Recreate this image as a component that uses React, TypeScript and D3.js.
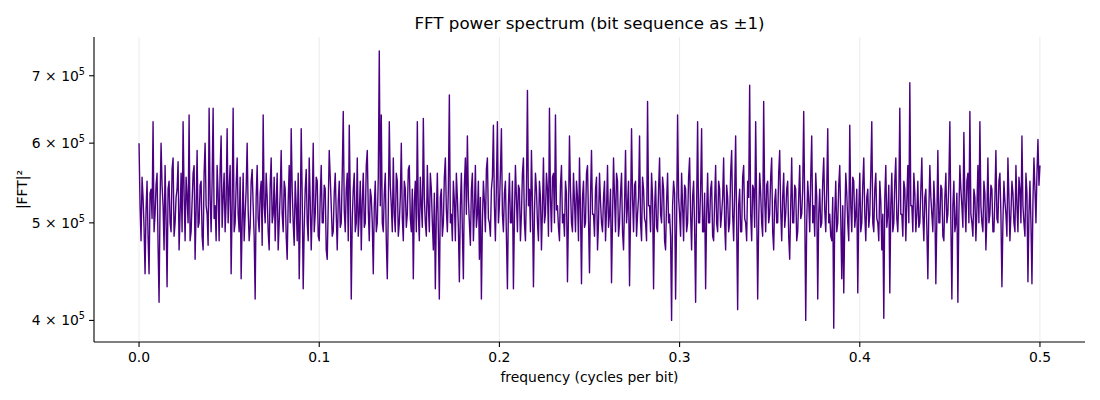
import * as d3 from 'd3'

// |FFT|^2 in units of 1e5 (901 bins from f=0 to f=0.5)
const power = [
  6.00, 5.20, 4.80, 5.55, 5.30, 4.95, 4.45, 5.15, 5.50, 4.85, 4.45, 5.35, 5.40, 5.05, 6.30, 4.90, 5.10, 5.45, 5.60, 4.75, 4.17, 5.25, 6.00, 5.45, 5.20, 4.70, 5.70, 5.05, 4.32, 5.40,
  5.50, 5.00, 4.90, 5.65, 5.80, 4.85, 5.00, 5.30, 5.40, 5.75, 4.70, 5.10, 5.60, 4.90, 6.30, 5.35, 4.80, 5.55, 5.30, 5.00, 6.40, 4.80, 4.90, 5.25, 5.60, 5.70, 4.60, 5.15, 5.90, 4.95,
  5.00, 5.45, 5.50, 4.85, 4.70, 5.60, 6.00, 5.20, 5.10, 4.75, 6.50, 5.30, 4.90, 5.50, 6.50, 5.05, 5.20, 4.80, 5.70, 5.35, 4.80, 5.65, 6.10, 4.95, 5.30, 5.60, 4.90, 5.25, 6.20, 5.00,
  5.40, 5.70, 4.45, 5.20, 6.50, 4.90, 5.00, 5.45, 5.80, 5.10, 4.90, 5.55, 4.40, 5.00, 5.60, 4.80, 5.10, 5.40, 6.00, 5.15, 4.80, 4.95, 5.50, 5.65, 5.20, 4.85, 4.20, 5.30, 5.70, 5.05,
  4.90, 5.35, 5.50, 4.75, 6.40, 5.20, 5.00, 5.60, 5.30, 4.90, 4.70, 5.45, 5.80, 5.00, 5.10, 5.55, 4.80, 5.25, 5.60, 4.70, 5.00, 5.35, 5.90, 5.10, 4.90, 5.50, 5.40, 4.85, 4.60, 5.25,
  5.70, 5.00, 6.20, 5.40, 5.00, 4.75, 5.50, 5.20, 4.80, 5.60, 4.40, 5.05, 6.20, 5.30, 4.30, 4.95, 5.40, 5.65, 5.00, 4.80, 5.80, 5.25, 4.70, 5.15, 6.00, 4.90, 5.10, 5.55, 5.50, 4.85,
  4.80, 5.30, 5.70, 5.00, 5.00, 5.45, 5.40, 4.70, 4.60, 5.20, 5.90, 5.55, 5.20, 4.85, 4.90, 5.35, 5.60, 5.10, 4.70, 5.25, 5.50, 4.95, 5.00, 5.60, 6.45, 5.15, 4.90, 5.40, 5.60, 4.80,
  6.25, 5.30, 4.20, 5.05, 5.40, 5.60, 4.90, 5.00, 5.80, 4.85, 5.10, 5.50, 4.70, 5.25, 5.60, 4.95, 5.00, 5.70, 5.90, 5.15, 4.80, 5.40, 5.30, 5.00, 4.45, 5.20, 5.50, 4.90, 5.00, 5.55,
  7.41, 5.20, 6.40, 5.00, 4.90, 5.35, 5.60, 4.80, 4.40, 5.15, 6.30, 5.45, 5.20, 4.90, 5.80, 5.10, 4.90, 5.60, 5.50, 4.85, 5.00, 5.30, 6.00, 5.05, 4.80, 5.50, 5.40, 4.95, 5.10, 5.65,
  5.70, 5.05, 4.90, 5.40, 4.40, 5.25, 5.50, 4.90, 6.30, 5.10, 4.80, 5.55, 5.20, 4.95, 6.35, 5.30, 5.00, 4.85, 5.70, 5.20, 4.90, 5.60, 5.40, 5.00, 4.70, 5.35, 4.30, 5.10, 5.60, 4.90,
  4.20, 5.30, 5.40, 4.85, 5.00, 5.55, 5.80, 5.15, 4.90, 5.40, 6.70, 5.00, 5.10, 4.80, 5.50, 5.25, 4.80, 5.60, 5.30, 4.95, 4.37, 5.20, 5.60, 4.90, 4.40, 5.45, 5.80, 5.10, 6.10, 5.30,
  5.00, 4.75, 5.40, 5.60, 4.80, 5.15, 5.70, 4.95, 5.10, 5.50, 4.60, 5.30, 4.20, 5.00, 5.50, 5.25, 4.90, 5.65, 5.80, 5.05, 5.00, 4.85, 5.40, 5.55, 6.25, 5.20, 4.80, 5.45, 6.30, 5.00,
  5.20, 5.60, 6.20, 5.10, 4.90, 5.35, 5.50, 4.85, 4.30, 5.20, 5.60, 5.00, 5.00, 5.50, 4.30, 5.05, 5.70, 5.30, 4.90, 5.45, 5.40, 4.80, 5.10, 5.60, 5.80, 5.00, 4.80, 5.35, 6.77, 5.20,
  5.40, 4.90, 5.90, 5.25, 4.32, 5.10, 5.60, 5.40, 5.00, 4.80, 5.50, 5.30, 4.70, 5.15, 5.80, 5.00, 5.10, 5.60, 5.40, 4.85, 6.50, 5.30, 4.90, 5.55, 5.60, 5.00, 6.40, 5.15, 5.20, 4.95,
  4.80, 5.45, 5.70, 5.00, 5.10, 4.85, 5.50, 5.35, 4.37, 5.10, 6.10, 5.40, 5.00, 4.90, 5.60, 5.25, 4.90, 5.50, 5.30, 4.80, 5.80, 5.15, 4.35, 5.30, 5.50, 4.95, 5.00, 5.60, 5.70, 5.05,
  4.46, 5.30, 5.90, 5.10, 5.10, 4.85, 5.40, 5.55, 4.70, 5.00, 5.60, 5.25, 5.00, 4.90, 5.30, 5.50, 4.80, 5.15, 5.70, 4.95, 5.10, 5.40, 4.36, 5.05, 5.80, 5.30, 4.90, 5.60, 5.50, 4.85,
  5.00, 5.35, 5.60, 4.90, 4.70, 5.20, 5.90, 5.00, 5.20, 5.50, 4.33, 5.10, 6.20, 5.30, 4.90, 5.45, 5.50, 4.85, 5.10, 5.30, 6.10, 5.00, 4.80, 5.55, 5.40, 5.05, 5.00, 4.80, 6.60, 5.20,
  5.20, 4.90, 5.60, 5.30, 4.30, 5.15, 5.50, 4.95, 4.90, 5.40, 5.80, 5.10, 5.00, 5.55, 5.40, 4.80, 4.70, 5.25, 5.60, 5.00, 5.10, 4.85, 4.00, 5.20, 5.50, 5.35, 4.20, 5.00, 6.40, 5.30,
  5.10, 4.85, 5.60, 5.20, 4.80, 5.45, 5.40, 4.90, 5.00, 5.55, 5.80, 5.10, 4.70, 5.30, 5.50, 4.95, 4.17, 5.20, 6.30, 5.00, 5.00, 5.40, 6.20, 4.90, 4.90, 5.35, 4.30, 5.10, 5.60, 5.00,
  5.00, 5.40, 5.50, 4.85, 4.80, 5.25, 5.70, 5.00, 4.90, 5.50, 5.40, 4.95, 5.10, 5.30, 5.80, 5.00, 4.70, 5.45, 5.30, 4.90, 5.00, 5.60, 5.90, 5.10, 4.80, 5.35, 6.10, 5.00, 4.10, 5.20,
  5.40, 4.90, 4.90, 5.55, 5.70, 5.05, 5.00, 4.80, 5.50, 5.30, 6.85, 5.10, 4.80, 5.45, 5.40, 4.95, 6.30, 5.20, 4.20, 5.00, 5.60, 5.35, 5.00, 4.85, 6.60, 5.30, 4.90, 5.45, 5.50, 5.00,
  5.10, 5.55, 5.80, 4.90, 4.70, 5.25, 5.40, 5.00, 5.00, 5.60, 5.90, 5.15, 4.80, 5.30, 5.60, 4.95, 5.10, 5.40, 5.50, 4.85, 4.60, 5.20, 5.80, 5.00, 5.00, 5.45, 5.40, 4.80, 4.90, 5.30,
  5.70, 5.05, 5.10, 5.40, 6.45, 5.20, 4.00, 5.00, 5.50, 5.25, 4.90, 5.55, 6.10, 5.00, 5.20, 4.85, 5.60, 5.30, 4.20, 5.10, 5.40, 4.95, 5.00, 5.50, 5.80, 5.15, 4.90, 5.40, 6.20, 5.00,
  5.10, 4.85, 4.80, 5.30, 3.93, 5.10, 5.50, 4.90, 5.00, 5.45, 5.70, 5.05, 4.40, 5.20, 4.26, 5.00, 5.60, 5.35, 5.00, 4.80, 6.25, 5.20, 4.90, 5.55, 5.50, 4.95, 5.10, 5.40, 4.26, 5.15,
  5.60, 4.90, 5.00, 5.45, 5.80, 5.10, 4.80, 5.30, 5.40, 4.95, 5.10, 5.60, 6.30, 5.00, 4.90, 5.40, 5.60, 5.05, 5.00, 4.80, 5.50, 5.25, 4.70, 5.10, 4.02, 5.30, 5.70, 4.95, 5.10, 5.45,
  4.26, 5.20, 5.60, 4.90, 5.00, 5.50, 5.80, 5.05, 4.90, 5.30, 6.50, 5.10, 5.10, 4.85, 5.50, 5.40, 4.80, 5.25, 5.70, 5.00, 6.89, 5.20, 5.20, 4.90, 5.60, 5.35, 4.90, 5.10, 5.50, 4.95,
  5.00, 5.40, 5.80, 5.10, 4.80, 5.30, 5.40, 4.95, 4.40, 5.15, 5.70, 5.30, 5.10, 4.90, 5.50, 5.20, 4.35, 5.05, 5.90, 5.00, 5.00, 5.45, 5.40, 4.85, 4.80, 5.30, 5.60, 5.00, 5.10, 5.50,
  6.30, 5.00, 4.20, 5.20, 5.50, 4.90, 5.00, 5.35, 4.17, 5.10, 5.70, 5.40, 5.20, 4.95, 6.15, 5.25, 4.90, 5.50, 5.60, 5.00, 6.45, 5.10, 5.00, 4.85, 5.40, 5.30, 4.80, 5.15, 5.70, 5.00,
  6.30, 5.20, 5.00, 4.90, 5.50, 5.35, 4.70, 5.10, 5.80, 5.00, 5.10, 5.45, 5.40, 4.90, 4.90, 5.30, 5.90, 5.05, 5.00, 5.50, 5.60, 5.10, 4.32, 5.00, 5.50, 5.25, 5.10, 4.85, 5.80, 5.30,
  4.80, 5.10, 5.50, 5.35, 5.00, 4.90, 5.70, 5.20, 4.90, 5.55, 5.40, 5.00, 6.10, 5.20, 5.00, 4.85, 5.60, 5.35, 4.37, 5.10, 5.50, 5.00, 4.35, 5.25, 5.80, 5.40, 5.00, 5.60, 6.05, 5.45,
  5.70
]

const xTicks = [0, 0.1, 0.2, 0.3, 0.4, 0.5]
const xTickLabels = ['0.0', '0.1', '0.2', '0.3', '0.4', '0.5']
const yTicks = [4e5, 5e5, 6e5, 7e5]
const yTickMantissa = ['4', '5', '6', '7']

const FONT = 'DejaVu Sans, sans-serif'

export default function App() {
  const width = 1100
  const height = 400
  const margin = { top: 37, right: 15, bottom: 58, left: 94 }

  const data = power.map((p, i) => ({ f: (0.5 * i) / (power.length - 1), v: p * 1e5 }))

  // matplotlib-style 5% margins (log space for y)
  const fExt = d3.extent(data, d => d.f) as [number, number]
  const fPad = (fExt[1] - fExt[0]) * 0.05
  const x = d3.scaleLinear()
    .domain([fExt[0] - fPad, fExt[1] + fPad])
    .range([margin.left, width - margin.right])

  const vExt = d3.extent(data, d => d.v) as [number, number]
  const logPad = (Math.log10(vExt[1]) - Math.log10(vExt[0])) * 0.05
  const y = d3.scaleLog()
    .domain([vExt[0] / Math.pow(10, logPad), vExt[1] * Math.pow(10, logPad)])
    .range([height - margin.bottom, margin.top])

  const line = d3.line<{ f: number; v: number }>()
    .x(d => x(d.f))
    .y(d => y(d.v))

  const bottom = height - margin.bottom
  const cx = (margin.left + width - margin.right) / 2
  const cy = (margin.top + bottom) / 2

  return (
    <svg width={width} height={height} style={{ position: 'absolute', left: 0, top: 0, background: '#fff' }}>
      {/* grid */}
      {xTicks.map(t => (
        <line key={'g' + t} x1={x(t)} x2={x(t)} y1={margin.top} y2={bottom}
          stroke="#b0b0b0" strokeOpacity={0.3} strokeWidth={0.8} />
      ))}

      <path d={line(data) || ''} fill="none" stroke="#4b0082" strokeWidth={1.4} strokeLinejoin="round" />

      {/* spines */}
      <line x1={margin.left} x2={margin.left} y1={margin.top} y2={bottom} stroke="#000" strokeWidth={1.1} />
      <line x1={margin.left} x2={width - margin.right} y1={bottom} y2={bottom} stroke="#000" strokeWidth={1.1} />

      {/* x ticks */}
      {xTicks.map((t, i) => (
        <g key={'x' + t} transform={`translate(${x(t)},${bottom})`}>
          <line y1={0} y2={4.9} stroke="#000" strokeWidth={1.1} />
          <text y={20} textAnchor="middle" fontFamily={FONT} fontSize={13.9} fill="#000">{xTickLabels[i]}</text>
        </g>
      ))}

      {/* y ticks */}
      {yTicks.map((t, i) => (
        <g key={'y' + t} transform={`translate(${margin.left},${y(t)})`}>
          <line x1={0} x2={-4.9} stroke="#000" strokeWidth={1.1} />
          <text x={-9} y={5} textAnchor="end" fontFamily={FONT} fontSize={13.9} fill="#000">
            {yTickMantissa[i]}{' × 10'}
            <tspan dy={-6} fontSize={9.7}>5</tspan>
          </text>
        </g>
      ))}

      <text x={cx} y={29} textAnchor="middle" fontFamily={FONT} fontSize={16.7} fill="#000">
        FFT power spectrum (bit sequence as ±1)
      </text>
      <text x={cx} y={382} textAnchor="middle" fontFamily={FONT} fontSize={13.9} fill="#000">
        frequency (cycles per bit)
      </text>
      <text transform={`translate(27,${cy}) rotate(-90)`} textAnchor="middle" fontFamily={FONT} fontSize={13.9} fill="#000">
        |FFT|²
      </text>
    </svg>
  )
}
